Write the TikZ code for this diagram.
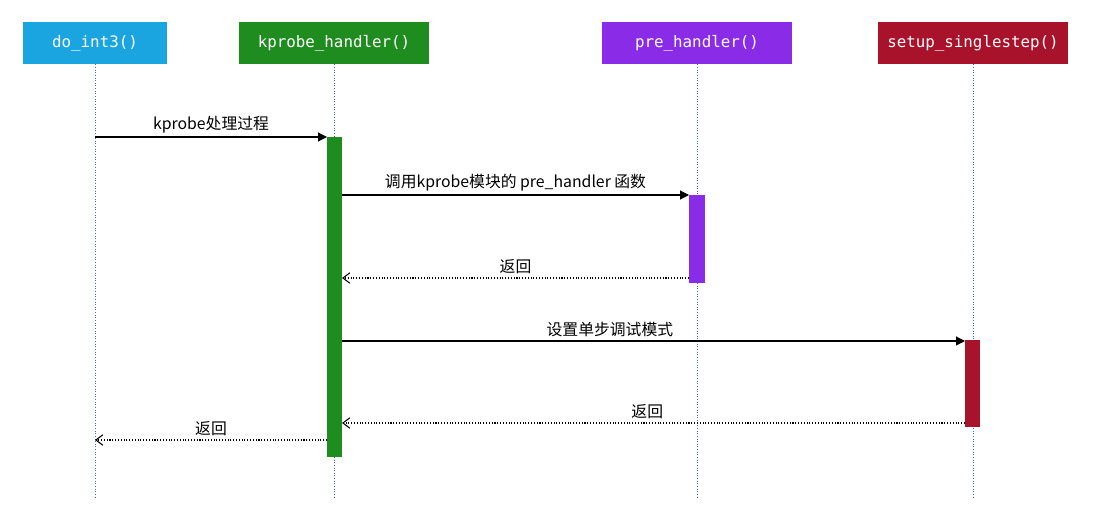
\documentclass[tikz,border=0pt]{standalone}
\usepackage{fontspec}
\setmainfont{DejaVu Sans Mono}
\newfontfamily\cjk{Noto Sans CJK SC}
\usetikzlibrary{arrows.meta}
\definecolor{cBlue}{HTML}{1BA5E0}
\definecolor{cGreen}{HTML}{1E8C1E}
\definecolor{cPurple}{HTML}{8A2BE8}
\definecolor{cRed}{HTML}{A8122A}
\definecolor{cLife}{HTML}{3A6FB0}
\tikzset{
  head/.style={draw=none,fill=#1,text=white,minimum width=3.8cm,minimum height=0.84cm,font=\fontsize{9}{10}\selectfont},
  life/.style={cLife,densely dotted,line width=0.5pt},
  bar/.style={fill=#1,draw=none},
  call/.style={-{Triangle[length=5pt,width=5pt]},line width=0.6pt},
  ret/.style={-{Straight Barb[length=4pt,width=6pt]},densely dotted,line width=0.6pt},
  lbl/.style={above,font=\cjk\fontsize{9}{10}\selectfont,inner sep=2pt}
}
\begin{document}
\begin{tikzpicture}[x=0.02cm,y=-0.02cm]
  \useasboundingbox[fill=white] (0,0) rectangle (1100,510);

  % heads
  \node[head=cBlue,minimum width=2.9cm] (int3) at (95,43) {do\_int3()};
  \node[head=cGreen] (kph) at (334,43) {kprobe\_handler()};
  \node[head=cPurple] (pre) at (697,43) {pre\_handler()};
  \node[head=cRed] (sst) at (973,43) {setup\_singlestep()};

  % lifelines
  \draw[life] (int3.south) -- (95,497);
  \draw[life] (kph.south) -- (334,497);
  \draw[life] (pre.south) -- (697,497);
  \draw[life] (sst.south) -- (973,497);

  % activation bars
  \fill[bar=cGreen] (327,137) rectangle (342,457);
  \fill[bar=cPurple] (689,195) rectangle (705,283);
  \fill[bar=cRed] (965,340) rectangle (980,427);

  % messages
  \coordinate (a0) at (95,137);  \coordinate (a1) at (327,137);
  \coordinate (b0) at (342,195); \coordinate (b1) at (689,195);
  \coordinate (c0) at (689,278); \coordinate (c1) at (342,278);
  \coordinate (d0) at (342,341); \coordinate (d1) at (965,341);
  \coordinate (e0) at (965,423); \coordinate (e1) at (342,423);
  \coordinate (f0) at (327,440); \coordinate (f1) at (95,440);

  \draw[call] (a0) -- (a1) node[lbl,midway] {kprobe处理过程};
  \draw[call] (b0) -- (b1) node[lbl,midway] {调用kprobe模块的 pre\_handler 函数};
  \draw[ret] (c0) -- (c1) node[lbl,pos=0.5] {返回};
  \draw[call] (d0) -- (d1) node[lbl,pos=0.43] {设置单步调试模式};
  \draw[ret] (e0) -- (e1) node[lbl,pos=0.51] {返回};
  \draw[ret] (f0) -- (f1) node[lbl,pos=0.5] {返回};
\end{tikzpicture}
\end{document}
